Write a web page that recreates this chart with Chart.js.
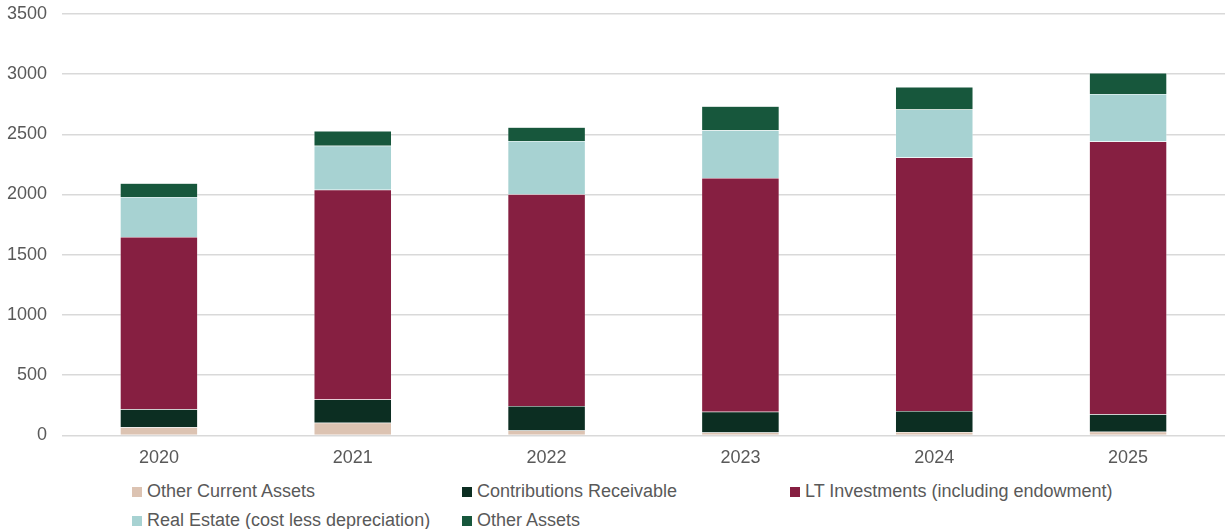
<!DOCTYPE html>
<html>
<head>
<script src="https://cdn.jsdelivr.net/npm/chart.js@4.4.1/dist/chart.umd.min.js"></script>
<style>
  body {
    margin: 0;
    background: #fff;
    font-family: "Liberation Sans", Arial, sans-serif;
  }
  #wrap {
    position: relative;
    width: 1225px;
    height: 529px;
    overflow: hidden;
  }
  #assets {
    position: absolute;
    left: 0;
    top: -12px;
  }
  #legend {
    position: absolute;
    left: 132px;
    top: 481px;
    display: grid;
    grid-template-columns: 330px 328px auto;
    row-gap: 8px;
    font-size: 18px;
    color: #595959;
    line-height: 21px;
  }
  #legend span.item {
    display: flex;
    align-items: center;
    white-space: nowrap;
  }
  #legend i {
    display: inline-block;
    width: 10px;
    height: 10px;
    margin-right: 5px;
  }
</style>
</head>
<body>
<div id="wrap">
  <canvas id="assets" width="1225" height="493"></canvas>
  <div id="legend"></div>
</div>
<script>
const years = ["2020", "2021", "2022", "2023", "2024", "2025"];

const otherCurrent   = [68, 105, 40, 25, 29, 31];
const contributions  = [149, 193, 204, 172, 174, 145];
const ltInvestments  = [1430, 1742, 1757, 1939, 2104, 2264];
const realEstate     = [332, 365, 442, 398, 398, 395];
const otherAssets    = [115, 123, 115, 198, 188, 174];

const seriesNames = [
  "Other Current Assets",
  "Contributions Receivable",
  "LT Investments (including endowment)",
  "Real Estate (cost less depreciation)",
  "Other Assets",
];
const seriesColors = ["#dcc3b2", "#0c2e22", "#861f41", "#a7d2d2", "#17573c"];
const seriesData = [otherCurrent, contributions, ltInvestments, realEstate, otherAssets];

const datasets = seriesData.map((d, i) => ({
  label: seriesNames[i],
  data: d,
  backgroundColor: seriesColors[i],
  borderColor: "rgba(255,255,255,0.6)",
  borderWidth: 0.5,
  barPercentage: 0.4,
  categoryPercentage: 1.0,
}));

Chart.defaults.font.family = '"Liberation Sans", Arial, sans-serif';
Chart.defaults.font.size = 18;
Chart.defaults.color = "#595959";

new Chart(document.getElementById("assets"), {
  type: "bar",
  data: { labels: years, datasets: datasets },
  options: {
    responsive: false,
    animation: false,
    layout: { padding: { top: 3, right: 0, bottom: 8, left: 0 } },
    plugins: {
      legend: { display: false },
      tooltip: { enabled: false },
    },
    scales: {
      x: {
        stacked: true,
        grid: { display: false },
        border: { display: false },
        ticks: { padding: 4 },
      },
      y: {
        stacked: true,
        min: 0,
        max: 3500,
        afterFit: (scale) => { scale.width = 62; },
        ticks: { stepSize: 500, padding: 15, callback: (v) => String(v) },
        grid: { color: "#d9d9d9", lineWidth: 1.5, drawTicks: false },
        border: { display: false },
      },
    },
  },
});

// legend laid out in fixed columns
const legend = document.getElementById("legend");
seriesNames.forEach((name, i) => {
  const item = document.createElement("span");
  item.className = "item";
  const sw = document.createElement("i");
  sw.style.background = seriesColors[i];
  item.appendChild(sw);
  item.appendChild(document.createTextNode(name));
  legend.appendChild(item);
});
</script>
</body>
</html>
